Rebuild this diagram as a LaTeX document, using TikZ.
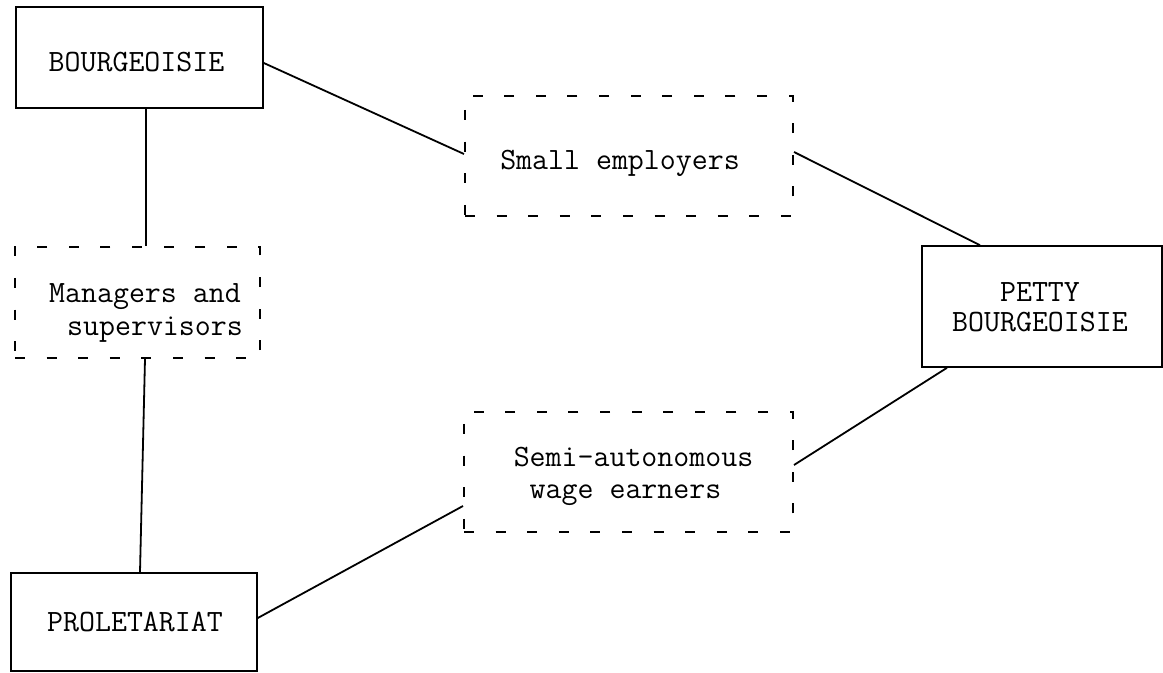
\documentclass[tikz,border=0pt]{standalone}
\usetikzlibrary{calc}
\begin{document}
\begin{tikzpicture}[x=0.5pt,y=-0.5pt,line width=0.8pt,
  solidbox/.style={draw, rectangle, inner sep=0pt},
  dashbox/.style={draw, rectangle, inner sep=0pt, line width=1pt, dash pattern=on 5pt off 10.8pt},
  lbl/.style={font=\ttfamily\fontsize{15.5}{16}\selectfont, anchor=base, inner sep=0pt},
  link/.style={line width=0.9pt}]
\useasboundingbox (0,0) rectangle (1163,673);
% boxes
\node[solidbox, minimum width=123.5pt, minimum height=50.5pt] (bourg) at (139.5,57.5) {};
\node[dashbox, minimum width=164pt, minimum height=60pt] (small) at (629,156) {};
\node[dashbox, minimum width=122.5pt, minimum height=55.5pt] (mgr) at (137.5,302.5) {};
\node[solidbox, minimum width=120pt, minimum height=60.5pt] (petty) at (1042,306.5) {};
\node[dashbox, minimum width=164.5pt, minimum height=60pt] (semi) at (628.5,472) {};
\node[solidbox, minimum width=123pt, minimum height=49pt] (prol) at (134,622) {};
% texts
\node[lbl] (bourgT) at (136.5,72) {BOURGEOISIE};
\node[lbl] (smallT) at (620,170) {Small employers};
\node[lbl] (mgrA) at (145,303) {Managers and};
\node[lbl] (mgrB) at (155,336) {supervisors};
\node[lbl] (pettyA) at (1040,302) {PETTY};
\node[lbl] (pettyB) at (1040,332) {BOURGEOISIE};
\node[lbl] (semiA) at (633.5,467) {Semi-autonomous};
\node[lbl] (semiB) at (625.5,499) {wage earners};
\node[lbl] (prolT) at (135,632) {PROLETARIAT};
% connectors
\draw[link] ($(bourg.east)+(0,5.5)$) -- ($(small.west)+(0,-2)$);
\draw[link] ($(small.east)+(0,-4)$) -- ($(petty.north)+(-62,0)$);
\draw[link] ($(petty.south)+(-95,0)$) -- ($(semi.east)+(0,-7)$);
\draw[link] ($(prol.east)+(0,-4)$) -- ($(semi.west)+(0,34)$);
\draw[link] ($(bourg.south)+(6.5,0)$) -- ($(mgr.north)+(8.5,0)$);
\draw[link] ($(mgr.south)+(7.5,0)$) -- ($(prol.north)+(6,0)$);
\end{tikzpicture}
\end{document}
